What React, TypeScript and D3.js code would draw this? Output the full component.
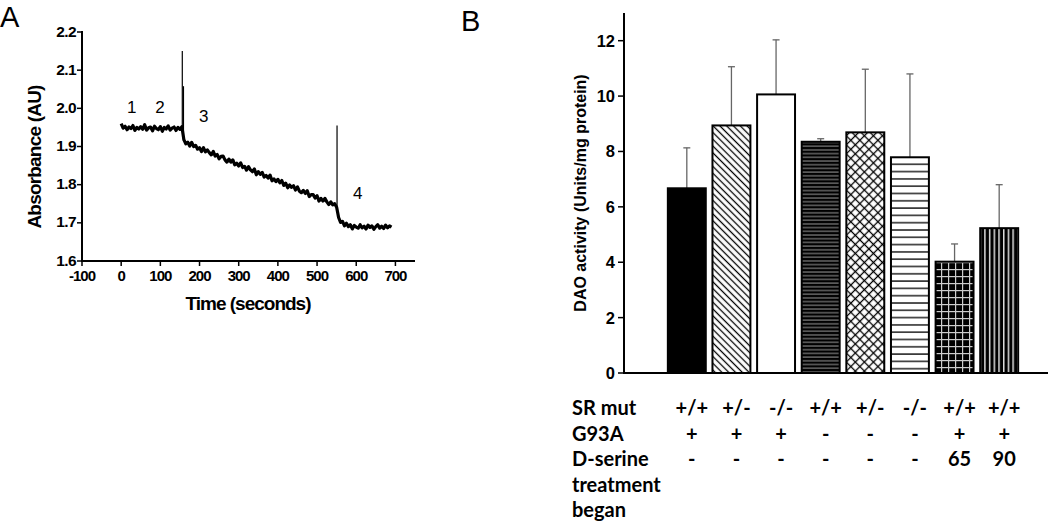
import React from 'react';
import * as d3 from 'd3';

// ---- Panel A: absorbance trace (sampled every 5 s from t = 0) ----
const SAMPLE_STEP = 5;
const baselineTrace = [
  1.960, 1.948, 1.953, 1.944, 1.951, 1.947, 1.955, 1.942, 1.950, 1.946, 1.952, 1.945, 1.957, 1.943, 1.949, 1.951,
  1.941, 1.953, 1.947, 1.944, 1.952, 1.940, 1.950, 1.946, 1.954, 1.943, 1.948, 1.951, 1.942, 1.950, 1.945, 1.952,
];
const declineTrace = [
  1.918, 1.907, 1.911, 1.901, 1.911, 1.900, 1.903, 1.893, 1.897, 1.887, 1.897, 1.886, 1.891, 1.884, 1.878, 1.887,
  1.875, 1.879, 1.868, 1.874, 1.875, 1.865, 1.859, 1.867, 1.859, 1.865, 1.852, 1.856, 1.849, 1.857, 1.845, 1.848,
  1.838, 1.847, 1.839, 1.834, 1.841, 1.826, 1.834, 1.827, 1.832, 1.820, 1.824, 1.817, 1.825, 1.810, 1.815, 1.808,
  1.814, 1.805, 1.811, 1.798, 1.804, 1.792, 1.799, 1.793, 1.797, 1.786, 1.794, 1.783, 1.779, 1.785, 1.777, 1.784,
  1.769, 1.774, 1.774, 1.765, 1.771, 1.757, 1.764, 1.757, 1.764, 1.755, 1.748, 1.755, 1.747, 1.750, 1.741,
];
const plateauTrace = [
  1.714, 1.701, 1.704, 1.692, 1.699, 1.690, 1.695, 1.684, 1.693, 1.689, 1.686, 1.695, 1.687, 1.691, 1.684, 1.694,
  1.688, 1.692, 1.683, 1.690, 1.695, 1.686, 1.691, 1.685, 1.694, 1.687, 1.692, 1.689,
];
const spikeTimes = [156, 159, 551];
const spikeTops = [2.15, 2.058, 1.955];
const spikeBases = [1.945, 1.915, 1.742];
const phaseLabels = ['1', '2', '3', '4'];
const phaseTimes = [27, 99, 211, 604];
const phaseValues = [1.988, 1.988, 1.964, 1.762];
const timeTicks = [-100, 0, 100, 200, 300, 400, 500, 600, 700];
const absTicks = [1.6, 1.7, 1.8, 1.9, 2.0, 2.1, 2.2];

// ---- Panel B: DAO activity ----
const groups = ['g1', 'g2', 'g3', 'g4', 'g5', 'g6', 'g7', 'g8'];
const daoMeans = [6.67, 8.94, 10.06, 8.35, 8.69, 7.79, 4.02, 5.23];
const daoErrors = [1.46, 2.12, 1.97, 0.11, 2.28, 3.01, 0.64, 1.57];
const daoTicks = [0, 2, 4, 6, 8, 10, 12];
const fills = ['#000', 'url(#pDiag)', '#fff', 'url(#pHDense)', 'url(#pCross)', 'url(#pHLine)', 'url(#pGrid)', 'url(#pVert)'];

const rowLabels = ['SR mut', 'G93A', 'D-serine', 'treatment', 'began'];
const srMut = ['+/+', '+/-', '-/-', '+/+', '+/-', '-/-', '+/+', '+/+'];
const g93a = ['+', '+', '+', '-', '-', '-', '+', '+'];
const dSerine = ['-', '-', '-', '-', '-', '-', '65', '90'];

const chartFont = '"Liberation Sans", Arial, sans-serif';
const tableFont = 'Lato, "Open Sans", sans-serif';

const App: React.FC = () => {
  // panel A scales
  const xA = d3.scaleLinear().domain([-100, 750]).range([82, 415]);
  const yA = d3.scaleLinear().domain([1.6, 2.2]).range([261, 32]);
  const trace = [...baselineTrace, ...declineTrace, ...plateauTrace];
  const traceLine = d3.line<number>()
    .x((_, i) => xA(i * SAMPLE_STEP))
    .y(v => yA(v));

  // panel B scales
  const xB = d3.scaleBand<string>().domain(groups).range([664.5, 1021.5]).paddingInner(0.15).paddingOuter(0.075);
  const yB = d3.scaleLinear().domain([0, 13]).range([373, 13]);
  const bw = xB.bandwidth();
  const tableRows = [srMut, g93a, dSerine];
  const rowY = (i: number) => 415 + i * 25.5;

  return (
    <svg width={1050} height={523} style={{ position: 'absolute', left: 0, top: 0, background: '#fff' }}>
      <defs>
        <pattern id="pDiag" patternUnits="userSpaceOnUse" width={4.8} height={4.8} patternTransform="rotate(45)">
          <rect width={4.8} height={4.8} fill="#fff" />
          <line x1={0} x2={4.8} y1={2.4} y2={2.4} stroke="#000" strokeWidth={1.3} />
        </pattern>
        <pattern id="pCross" patternUnits="userSpaceOnUse" width={6.4} height={6.4} patternTransform="rotate(45)">
          <rect width={6.4} height={6.4} fill="#fff" />
          <line x1={0} x2={6.4} y1={3.2} y2={3.2} stroke="#000" strokeWidth={1.3} />
          <line y1={0} y2={6.4} x1={3.2} x2={3.2} stroke="#000" strokeWidth={1.3} />
        </pattern>
        <pattern id="pHDense" patternUnits="userSpaceOnUse" width={10} height={3.7}>
          <rect width={10} height={3.7} fill="#000" />
          <rect y={1.4} width={10} height={1} fill="#999" />
        </pattern>
        <pattern id="pHLine" patternUnits="userSpaceOnUse" width={10} height={7.3}>
          <rect width={10} height={7.3} fill="#fff" />
          <rect y={3} width={10} height={1.4} fill="#111" />
        </pattern>
        <pattern id="pGrid" patternUnits="userSpaceOnUse" width={7} height={7}>
          <rect width={7} height={7} fill="#000" />
          <rect x={0} y={3} width={7} height={1.2} fill="#ccc" />
          <rect x={3} y={0} width={1.2} height={7} fill="#ccc" />
        </pattern>
        <pattern id="pVert" patternUnits="userSpaceOnUse" width={4.7} height={10}>
          <rect width={4.7} height={10} fill="#000" />
          <rect x={2} width={1.3} height={10} fill="#fff" />
        </pattern>
      </defs>

      {/* ---------- Panel A ---------- */}
      <text x={0} y={27} fontFamily={chartFont} fontSize={29}>A</text>
      <g fontFamily={chartFont}>
        {absTicks.map(t => (
          <g key={t}>
            <line x1={77} x2={82} y1={yA(t)} y2={yA(t)} stroke="#000" strokeWidth={1.5} />
            <text x={76} y={yA(t) - 1} dy="0.36em" textAnchor="end" fontSize={15.5} fontWeight="bold" letterSpacing={-0.6}>
              {d3.format('.1f')(t)}
            </text>
          </g>
        ))}
        {timeTicks.map(t => (
          <g key={t}>
            <line x1={xA(t)} x2={xA(t)} y1={261} y2={266} stroke="#000" strokeWidth={1.5} />
            <text x={xA(t)} y={281} textAnchor="middle" fontSize={15} fontWeight="bold" letterSpacing={-1}>
              {t}
            </text>
          </g>
        ))}
        <line x1={82} x2={82} y1={yA(2.2) - 1} y2={262} stroke="#000" strokeWidth={2} />
        <line x1={81} x2={xA(750)} y1={261} y2={261} stroke="#000" strokeWidth={2} />
        <text transform={`translate(41,157) rotate(-90)`} textAnchor="middle" fontSize={19} fontWeight="bold" letterSpacing={-0.8}>
          Absorbance (AU)
        </text>
        <text x={248} y={310} textAnchor="middle" fontSize={19} fontWeight="bold" letterSpacing={-1}>
          Time (seconds)
        </text>
        <path d={traceLine(trace) || ''} fill="none" stroke="#000" strokeWidth={3.2} strokeLinejoin="round" />
        {spikeTimes.map((t, i) => (
          <line key={t} x1={xA(t)} x2={xA(t)} y1={yA(spikeBases[i])} y2={yA(spikeTops[i])} stroke="#000" strokeWidth={1.2} />
        ))}
        {phaseLabels.map((l, i) => (
          <text key={l} x={xA(phaseTimes[i])} y={yA(phaseValues[i])} textAnchor="middle" fontSize={17}>{l}</text>
        ))}
      </g>

      {/* ---------- Panel B ---------- */}
      <text x={461} y={31} fontFamily={chartFont} fontSize={29}>B</text>
      <g fontFamily={chartFont}>
        {daoTicks.map(t => (
          <g key={t}>
            <line x1={618} x2={624} y1={yB(t)} y2={yB(t)} stroke="#000" strokeWidth={1.5} />
            <text x={615} y={yB(t)} dy="0.36em" textAnchor="end" fontSize={16.5} fontWeight="bold">{t}</text>
          </g>
        ))}
        <text transform={`translate(586,${yB(6.5)}) rotate(-90)`} textAnchor="middle" fontSize={16} fontWeight="bold">
          DAO activity (Units/mg protein)
        </text>
        {groups.map((g, i) => {
          const cx = (xB(g) || 0) + bw / 2;
          return (
            <g key={g}>
              <line x1={cx} x2={cx} y1={yB(daoMeans[i])} y2={yB(daoMeans[i] + daoErrors[i])} stroke="#666" strokeWidth={1.3} />
              <line x1={cx - 3.5} x2={cx + 3.5} y1={yB(daoMeans[i] + daoErrors[i])} y2={yB(daoMeans[i] + daoErrors[i])} stroke="#666" strokeWidth={1.3} />
              <rect x={xB(g)} y={yB(daoMeans[i])} width={bw} height={yB(0) - yB(daoMeans[i])}
                fill={fills[i]} stroke="#000" strokeWidth={2} />
            </g>
          );
        })}
        <line x1={624} x2={624} y1={yB(13)} y2={374} stroke="#000" strokeWidth={2} />
        <line x1={623} x2={1048} y1={373} y2={373} stroke="#000" strokeWidth={2} />
      </g>

      {/* ---------- Table under panel B ---------- */}
      <g fontFamily={tableFont} fontWeight="bold" fontSize={20} fill="#000">
        {rowLabels.map((l, i) => (
          <text key={l} x={572} y={rowY(i)}>{l}</text>
        ))}
        {tableRows.map((row, r) => row.map((v, i) => (
          <text key={`${r}-${i}`} x={(xB(groups[i]) || 0) + bw / 2 + 5} y={rowY(r)} textAnchor="middle">{v}</text>
        )))}
      </g>
    </svg>
  );
};

export default App;
